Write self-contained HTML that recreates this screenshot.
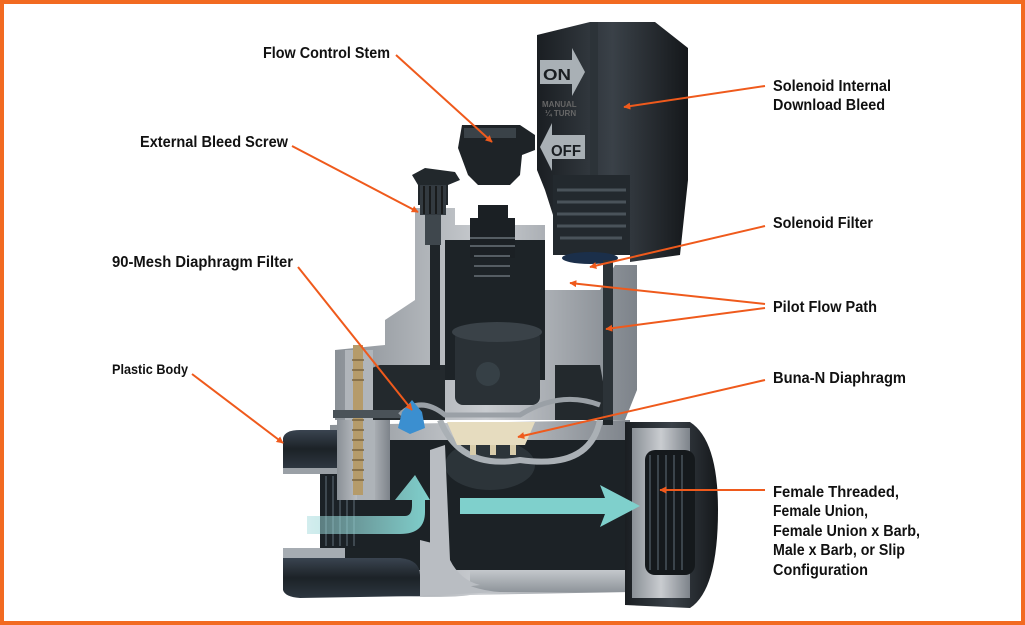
<!DOCTYPE html>
<html><head><meta charset="utf-8"><style>
html,body{margin:0;padding:0;background:#fff}
svg{display:block}
text{font-family:"Liberation Sans Narrow","Liberation Sans",sans-serif;font-weight:bold;fill:#111}
</style></head><body>
<svg width="1025" height="625" viewBox="0 0 1025 625" xmlns="http://www.w3.org/2000/svg">
<defs>
<marker id="ah" viewBox="0 0 10 10" refX="9" refY="5" markerWidth="7" markerHeight="7" orient="auto-start-reverse" markerUnits="userSpaceOnUse"><path d="M0,0 L10,5 L0,10 z" fill="#ef5a1c"/></marker>
<linearGradient id="gb" x1="0" y1="0" x2="1" y2="0"><stop offset="0" stop-color="#8a9096"/><stop offset=".5" stop-color="#c9ccd0"/><stop offset="1" stop-color="#7d838a"/></linearGradient>
<linearGradient id="gv" x1="0" y1="0" x2="0" y2="1"><stop offset="0" stop-color="#c4c8cc"/><stop offset="1" stop-color="#8e949a"/></linearGradient>
<linearGradient id="dk" x1="0" y1="0" x2="1" y2="0"><stop offset="0" stop-color="#1a1e22"/><stop offset=".5" stop-color="#3a4148"/><stop offset="1" stop-color="#15181b"/></linearGradient>
<linearGradient id="dkv" x1="0" y1="0" x2="0" y2="1"><stop offset="0" stop-color="#3a4450"/><stop offset=".5" stop-color="#1c2227"/><stop offset="1" stop-color="#2d3640"/></linearGradient>
<linearGradient id="fl" x1="0" y1="0" x2="1" y2="0"><stop offset="0" stop-color="#9ed8da" stop-opacity=".45"/><stop offset="1" stop-color="#7fd0cc"/></linearGradient>
</defs>
<rect x="2" y="2" width="1021" height="621" fill="#fff" stroke="#f26a21" stroke-width="4"/>

<!-- main pipe body -->
<path d="M330,425 L630,420 L630,592 L470,595 Q440,600 330,592 Z" fill="url(#gb)"/>
<rect x="345" y="440" width="285" height="130" fill="#1c2226"/>
<ellipse cx="490" cy="465" rx="45" ry="25" fill="#2c3439"/>
<path d="M470,570 L628,570 L628,592 L470,592 Z" fill="url(#gv)"/>
<!-- left pipe end -->
<path d="M283,438 Q285,430 300,430 L340,430 L340,468 L283,468 Z" fill="url(#dkv)"/>
<path d="M283,468 L340,468 L340,474 L283,474 Z" fill="#9aa0a6"/>
<path d="M283,548 L345,548 L345,558 L283,558 Z" fill="#a6acb2"/>
<path d="M283,558 L400,558 Q420,560 420,575 L420,596 L300,598 Q285,597 283,590 Z" fill="url(#dkv)"/>
<rect x="283" y="474" width="40" height="74" fill="#fff"/>
<rect x="320" y="474" width="40" height="74" fill="#1b2126"/>
<g stroke="#3e4850" stroke-width="2"><line x1="326" y1="476" x2="326" y2="546"/><line x1="333" y1="476" x2="333" y2="546"/><line x1="340" y1="476" x2="340" y2="546"/><line x1="347" y1="476" x2="347" y2="546"/><line x1="354" y1="476" x2="354" y2="546"/></g>
<path d="M420,540 L440,545 L450,575 Q470,590 500,592 L420,596 Z" fill="#b9bdc2"/>
<!-- lower inner divider -->
<path d="M430,450 L445,445 L450,560 Q460,580 480,585 L440,590 L430,560 Z" fill="#b9bdc2"/>
<path d="M440,420 Q460,470 520,460 Q590,470 600,420" fill="none" stroke="#aab0b5" stroke-width="6"/>
<!-- right pipe end -->
<path d="M625,422 L690,422 Q718,440 718,510 Q718,590 690,608 L625,605 Z" fill="url(#dk)"/>
<rect x="632" y="428" width="58" height="170" fill="url(#gb)"/>
<rect x="645" y="450" width="50" height="125" rx="10" fill="#15191c"/>
<g stroke="#3b444b" stroke-width="2">
<line x1="650" y1="455" x2="650" y2="570"/><line x1="658" y1="455" x2="658" y2="570"/><line x1="666" y1="455" x2="666" y2="570"/><line x1="674" y1="455" x2="674" y2="570"/><line x1="682" y1="455" x2="682" y2="570"/>
</g>

<!-- upper gray body -->
<path d="M385,320 L415,300 L415,208 L455,208 L455,225 L545,225 L545,290 L600,290 L615,265 L637,265 L637,390 L625,420 L335,420 L335,350 L385,345 Z" fill="url(#gb)"/>
<rect x="445" y="240" width="100" height="140" fill="#1d2327"/>
<rect x="455" y="330" width="85" height="75" rx="8" fill="#2a3136"/>
<ellipse cx="497" cy="332" rx="45" ry="10" fill="#3a4248"/>
<circle cx="488" cy="374" r="12" fill="#364046"/>
<path d="M360,395 Q360,370 380,365 L445,365 L445,420 L360,420 Z" fill="#23292d"/>
<path d="M555,365 L600,365 L610,420 L555,420 Z" fill="#23292d"/>
<rect x="430" y="240" width="10" height="130" fill="#1f2529"/>
<rect x="603" y="265" width="10" height="160" fill="#1f2529"/>
<g fill="#1b2024"><rect x="470" y="218" width="45" height="40"/><rect x="478" y="205" width="30" height="20"/></g>
<g stroke="#555d63" stroke-width="2"><line x1="470" y1="238" x2="515" y2="238"/><line x1="470" y1="246" x2="515" y2="246"/><line x1="474" y1="256" x2="510" y2="256"/><line x1="474" y1="266" x2="510" y2="266"/><line x1="474" y1="276" x2="510" y2="276"/></g>
<path d="M458,148 L462,125 L520,125 L535,135 L535,150 L522,155 L520,175 L510,185 L478,185 L468,175 Z" fill="#1e2327"/>
<rect x="464" y="128" width="52" height="10" fill="#3a4248"/>
<path d="M412,175 L425,168 L455,172 L460,180 L448,185 L448,205 L418,205 L418,185 Z" fill="#22282c"/>
<rect x="420" y="185" width="26" height="30" fill="#333a40"/>
<g stroke="#111" stroke-width="1.5"><line x1="424" y1="186" x2="424" y2="214"/><line x1="430" y1="186" x2="430" y2="214"/><line x1="436" y1="186" x2="436" y2="214"/><line x1="442" y1="186" x2="442" y2="214"/></g>
<rect x="425" y="215" width="16" height="30" fill="#3f474d"/>
<!-- solenoid -->
<path d="M537,35 L590,22 L655,22 L688,48 L688,180 L680,255 L630,262 L630,215 L553,215 L545,190 L537,170 Z" fill="url(#dk)"/>
<rect x="590" y="22" width="8" height="165" fill="#2c3338"/>
<rect x="553" y="175" width="77" height="80" fill="#23292e"/>
<g stroke="#4a535a" stroke-width="3"><line x1="557" y1="190" x2="626" y2="190"/><line x1="557" y1="202" x2="626" y2="202"/><line x1="557" y1="214" x2="626" y2="214"/><line x1="557" y1="226" x2="626" y2="226"/><line x1="560" y1="238" x2="622" y2="238"/></g>
<ellipse cx="590" cy="258" rx="28" ry="6" fill="#1b2f4a"/>
<rect x="603" y="260" width="10" height="160" fill="#2c3338"/>
<path d="M540,60 L572,60 L572,48 L585,72 L572,96 L572,84 L540,84 Z" fill="#a9b0b5"/>
<text x="543" y="80" font-size="16" style="fill:#1a1e22" textLength="28" lengthAdjust="spacingAndGlyphs">ON</text>
<text x="542" y="107" font-size="8" style="fill:#666">MANUAL</text>
<text x="545" y="116" font-size="8" style="fill:#666">¼ TURN</text>
<path d="M585,135 L552,135 L552,123 L540,147 L552,171 L552,159 L585,159 Z" fill="#a9b0b5"/>
<text x="551" y="156" font-size="16" style="fill:#1a1e22" textLength="30" lengthAdjust="spacingAndGlyphs">OFF</text>
<!-- left screw column -->
<path d="M337,420 L390,420 L390,500 L337,500 Z" fill="url(#gb)"/>
<rect x="357" y="420" width="18" height="80" fill="#aeb3b8"/>
<rect x="345" y="350" width="28" height="70" fill="#b0b5ba"/>
<rect x="353" y="345" width="10" height="150" fill="#b59b6a"/>
<g stroke="#7a653f" stroke-width="1.5"><line x1="352" y1="360" x2="364" y2="360"/><line x1="352" y1="370" x2="364" y2="370"/><line x1="352" y1="380" x2="364" y2="380"/><line x1="352" y1="420" x2="364" y2="420"/><line x1="352" y1="430" x2="364" y2="430"/><line x1="352" y1="440" x2="364" y2="440"/><line x1="352" y1="450" x2="364" y2="450"/><line x1="352" y1="460" x2="364" y2="460"/><line x1="352" y1="470" x2="364" y2="470"/><line x1="352" y1="480" x2="364" y2="480"/></g>
<rect x="333" y="410" width="80" height="8" fill="#4a5258"/>
<!-- diaphragm -->
<path d="M400,415 Q420,395 445,415 L520,415 Q560,390 600,405" fill="none" stroke="#9aa0a6" stroke-width="5"/>
<path d="M447,422 L535,422 L525,445 L457,445 Z" fill="#e6dcbf"/>
<rect x="470" y="445" width="6" height="10" fill="#d8ccaa"/><rect x="490" y="445" width="6" height="10" fill="#d8ccaa"/><rect x="510" y="445" width="6" height="10" fill="#d8ccaa"/>
<path d="M402,412 L412,400 L422,412 L425,428 L410,434 L398,428 Z" fill="#3b8fd0"/>
<!-- flow arrows -->
<path d="M307,516 L405,516 Q412,516 412,505 L412,500 L395,500 L415,475 L430,500 L425,500 L425,512 Q425,534 400,534 L307,534 Z" fill="url(#fl)"/>
<path d="M460,498 L605,498 L600,485 L640,506 L600,527 L605,514 L460,514 Z" fill="#7fd0cc"/>

<!-- callout lines -->
<g stroke="#ef5a1c" stroke-width="2" fill="none" marker-end="url(#ah)">
<line x1="396" y1="55" x2="492" y2="142"/>
<line x1="292" y1="146" x2="418" y2="212"/>
<line x1="298" y1="267" x2="412" y2="410"/>
<line x1="192" y1="374" x2="283" y2="443"/>
<line x1="765" y1="86" x2="624" y2="107"/>
<line x1="765" y1="226" x2="590" y2="267"/>
<line x1="765" y1="304" x2="570" y2="283"/>
<line x1="765" y1="308" x2="606" y2="329"/>
<line x1="765" y1="380" x2="518" y2="437"/>
<line x1="765" y1="490" x2="660" y2="490"/>
</g>

<text x="263" y="58" font-size="16" textLength="127" lengthAdjust="spacingAndGlyphs">Flow Control Stem</text>
<text x="140" y="147" font-size="16" textLength="148" lengthAdjust="spacingAndGlyphs">External Bleed Screw</text>
<text x="112" y="267" font-size="16" textLength="181" lengthAdjust="spacingAndGlyphs">90-Mesh Diaphragm Filter</text>
<text x="112" y="374" font-size="14" textLength="76" lengthAdjust="spacingAndGlyphs">Plastic Body</text>
<text x="773" y="91" font-size="16" textLength="118" lengthAdjust="spacingAndGlyphs">Solenoid Internal</text>
<text x="773" y="110" font-size="16" textLength="112" lengthAdjust="spacingAndGlyphs">Download Bleed</text>
<text x="773" y="228" font-size="16" textLength="100" lengthAdjust="spacingAndGlyphs">Solenoid Filter</text>
<text x="773" y="312" font-size="16" textLength="104" lengthAdjust="spacingAndGlyphs">Pilot Flow Path</text>
<text x="773" y="383" font-size="16" textLength="133" lengthAdjust="spacingAndGlyphs">Buna-N Diaphragm</text>
<text x="773" y="497" font-size="16" textLength="126" lengthAdjust="spacingAndGlyphs">Female Threaded,</text>
<text x="773" y="516" font-size="16" textLength="95" lengthAdjust="spacingAndGlyphs">Female Union,</text>
<text x="773" y="536" font-size="16" textLength="147" lengthAdjust="spacingAndGlyphs">Female Union x Barb,</text>
<text x="773" y="555" font-size="16" textLength="132" lengthAdjust="spacingAndGlyphs">Male x Barb, or Slip</text>
<text x="773" y="575" font-size="16" textLength="95" lengthAdjust="spacingAndGlyphs">Configuration</text>
</svg>
</body></html>
